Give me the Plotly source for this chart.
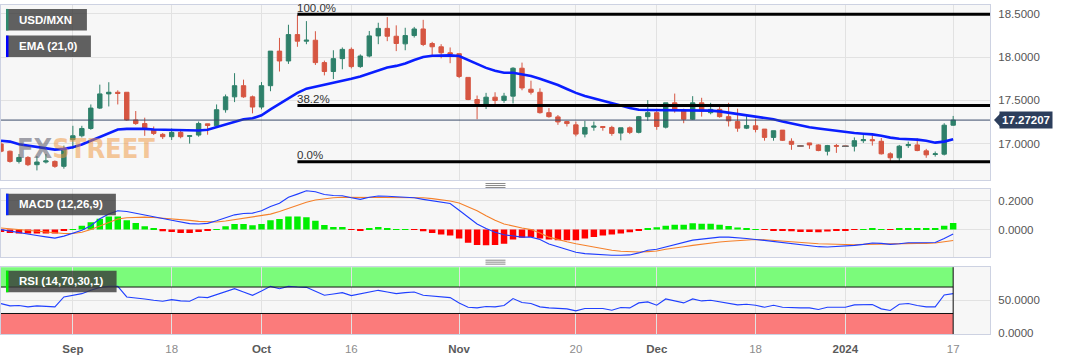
import plotly.graph_objects as go

# ---------------- data ----------------
# trading-day index, 0 = 2023-09-01 (daily bars, weekdays)
x_idx = list(range(-8, 99))

opens = [
    16.996, 16.912, 16.794, 16.840, 16.756, 16.787, 16.794, 16.737, 17.046, 17.091,
    17.175, 17.411, 17.575, 17.594, 17.594, 17.274, 17.232, 17.160, 17.107, 17.080,
    17.130, 17.084, 17.099, 17.229, 17.206, 17.392, 17.541, 17.670, 17.541, 17.423,
    17.670, 18.070, 17.956, 18.261, 18.185, 18.196, 17.937, 17.834, 17.983, 18.090,
    17.891, 18.013, 18.246, 18.333, 18.242, 18.154, 18.250, 18.326, 18.158, 18.120,
    18.051, 18.040, 17.766, 17.510, 17.450, 17.537, 17.500, 17.549, 17.872, 17.629,
    17.594, 17.358, 17.309, 17.255, 17.217, 17.110, 17.190, 17.198, 17.187, 17.122,
    17.183, 17.130, 17.312, 17.358, 17.190, 17.472, 17.389, 17.282, 17.472, 17.358,
    17.396, 17.312, 17.255, 17.179, 17.206, 17.168, 17.072, 17.156, 17.027, 16.973,
    17.008, 16.985, 16.912, 16.977, 16.970, 16.970, 17.034, 17.046, 17.027, 16.882,
    16.836, 16.977, 16.985, 16.916, 16.874, 16.878, 17.213,
]
highs = [
    17.020, 16.920, 16.880, 16.855, 16.855, 16.880, 16.806, 16.977, 17.206, 17.206,
    17.453, 17.682, 17.710, 17.617, 17.594, 17.377, 17.300, 17.198, 17.122, 17.175,
    17.149, 17.099, 17.255, 17.230, 17.453, 17.568, 17.815, 17.740, 17.556, 17.712,
    18.070, 18.223, 18.375, 18.490, 18.417, 18.300, 17.960, 18.080, 18.112, 18.112,
    18.032, 18.303, 18.398, 18.463, 18.368, 18.340, 18.350, 18.432, 18.177, 18.150,
    18.112, 18.040, 17.766, 17.556, 17.587, 17.594, 17.587, 17.884, 17.937, 17.728,
    17.640, 17.411, 17.331, 17.263, 17.255, 17.263, 17.255, 17.200, 17.206, 17.183,
    17.198, 17.320, 17.503, 17.404, 17.472, 17.579, 17.404, 17.549, 17.530, 17.472,
    17.427, 17.472, 17.404, 17.320, 17.290, 17.168, 17.149, 17.156, 17.061, 16.973,
    17.008, 16.992, 16.985, 16.996, 16.970, 17.072, 17.099, 17.099, 17.065, 16.900,
    16.985, 17.023, 17.061, 16.939, 16.909, 17.236, 17.320,
]
lows = [
    16.900, 16.780, 16.770, 16.740, 16.690, 16.770, 16.720, 16.710, 16.939, 17.072,
    17.160, 17.400, 17.430, 17.453, 17.263, 17.217, 17.090, 17.099, 17.053, 17.042,
    17.061, 17.000, 17.080, 17.103, 17.187, 17.358, 17.480, 17.530, 17.350, 17.396,
    17.606, 17.834, 17.922, 18.120, 18.150, 17.910, 17.789, 17.747, 17.860, 17.870,
    17.876, 17.998, 18.150, 18.185, 18.070, 18.080, 18.227, 18.128, 18.006, 17.987,
    17.930, 17.758, 17.503, 17.282, 17.400, 17.453, 17.472, 17.465, 17.617, 17.568,
    17.347, 17.300, 17.217, 17.198, 17.084, 17.072, 17.149, 17.149, 17.091, 17.038,
    17.110, 17.118, 17.263, 17.160, 17.175, 17.358, 17.236, 17.274, 17.312, 17.339,
    17.300, 17.198, 17.137, 17.168, 17.130, 17.034, 17.034, 17.030, 16.928, 16.973,
    16.939, 16.912, 16.863, 16.893, 16.970, 16.909, 17.008, 16.977, 16.874, 16.794,
    16.800, 16.950, 16.912, 16.836, 16.850, 16.863, 17.206,
]
closes = [
    16.912, 16.794, 16.840, 16.756, 16.787, 16.800, 16.737, 16.935, 17.091, 17.175,
    17.411, 17.575, 17.594, 17.580, 17.274, 17.232, 17.175, 17.118, 17.080, 17.130,
    17.080, 17.091, 17.232, 17.210, 17.392, 17.541, 17.670, 17.541, 17.423, 17.670,
    18.070, 17.956, 18.261, 18.185, 18.196, 17.937, 17.834, 17.983, 18.090, 17.891,
    18.013, 18.246, 18.333, 18.242, 18.158, 18.250, 18.326, 18.147, 18.120, 18.051,
    18.036, 17.777, 17.510, 17.465, 17.537, 17.500, 17.549, 17.872, 17.644, 17.594,
    17.358, 17.312, 17.251, 17.232, 17.110, 17.187, 17.202, 17.187, 17.118, 17.183,
    17.130, 17.312, 17.358, 17.198, 17.472, 17.389, 17.282, 17.472, 17.377, 17.396,
    17.312, 17.263, 17.179, 17.210, 17.164, 17.072, 17.149, 17.038, 16.992, 16.973,
    16.985, 16.920, 16.977, 16.970, 16.970, 17.034, 17.046, 17.034, 16.882, 16.836,
    16.970, 16.989, 16.920, 16.870, 16.882, 17.213, 17.272,
]
ema21 = [
    17.034, 17.023, 16.992, 16.977, 16.958, 16.947, 16.931, 16.939, 16.958, 16.989,
    17.034, 17.080, 17.122, 17.164, 17.171, 17.175, 17.171, 17.164, 17.160, 17.156,
    17.152, 17.152, 17.152, 17.160, 17.190, 17.221, 17.259, 17.282, 17.293, 17.328,
    17.396, 17.461, 17.518, 17.587, 17.636, 17.659, 17.674, 17.700, 17.728, 17.750,
    17.777, 17.811, 17.850, 17.880, 17.899, 17.926, 17.968, 18.002, 18.017, 18.021,
    18.021, 18.013, 17.968, 17.918, 17.876, 17.842, 17.819, 17.819, 17.804, 17.781,
    17.750, 17.716, 17.678, 17.632, 17.587, 17.552, 17.526, 17.499, 17.469, 17.442,
    17.411, 17.392, 17.389, 17.389, 17.381, 17.389, 17.389, 17.385, 17.385, 17.381,
    17.373, 17.358, 17.343, 17.331, 17.320, 17.300, 17.282, 17.255, 17.232, 17.210,
    17.190, 17.175, 17.160, 17.145, 17.133, 17.122, 17.114, 17.107, 17.091, 17.069,
    17.057, 17.053, 17.046, 17.034, 17.011, 17.023, 17.050,
]
macd_hist = [
    -0.016, -0.023, -0.027, -0.027, -0.027, -0.027, -0.027, -0.007, 0.003, 0.027,
    0.050, 0.075, 0.091, 0.091, 0.064, 0.045, 0.023, 0.004, -0.011, -0.016,
    -0.023, -0.023, -0.016, -0.007, 0.002, 0.023, 0.039, 0.039, 0.030, 0.039,
    0.064, 0.073, 0.091, 0.091, 0.086, 0.061, 0.032, 0.018, 0.018, -0.002,
    -0.004, 0.004, 0.018, 0.011, 0.002, 0.001, -0.001, -0.011, -0.023, -0.034,
    -0.041, -0.061, -0.091, -0.107, -0.109, -0.107, -0.098, -0.068, -0.057, -0.052,
    -0.061, -0.068, -0.073, -0.073, -0.073, -0.061, -0.052, -0.041, -0.034, -0.027,
    -0.018, -0.004, 0.011, 0.016, 0.027, 0.034, 0.034, 0.043, 0.041, 0.041,
    0.034, 0.025, 0.014, 0.007, 0.002, -0.003, -0.004, -0.005, -0.011, -0.016,
    -0.016, -0.018, -0.014, -0.009, -0.005, -0.001, 0.002, 0.007, 0.003, -0.002,
    0.004, 0.006, 0.006, 0.005, 0.007, 0.027, 0.045,
]
macd_line = [
    0.000, -0.011, -0.023, -0.034, -0.041, -0.050, -0.059, -0.045, -0.027, -0.005,
    0.027, 0.075, 0.107, 0.130, 0.125, 0.114, 0.102, 0.091, 0.077, 0.064,
    0.052, 0.041, 0.039, 0.043, 0.061, 0.084, 0.102, 0.111, 0.114, 0.130,
    0.159, 0.182, 0.223, 0.245, 0.268, 0.261, 0.243, 0.236, 0.234, 0.220,
    0.209, 0.223, 0.232, 0.230, 0.225, 0.223, 0.220, 0.209, 0.198, 0.189,
    0.180, 0.134, 0.084, 0.039, 0.007, -0.018, -0.036, -0.045, -0.052, -0.052,
    -0.068, -0.100, -0.118, -0.136, -0.157, -0.166, -0.170, -0.175, -0.177, -0.177,
    -0.175, -0.161, -0.143, -0.136, -0.120, -0.102, -0.091, -0.073, -0.066, -0.059,
    -0.052, -0.052, -0.055, -0.061, -0.068, -0.075, -0.080, -0.086, -0.095, -0.105,
    -0.111, -0.118, -0.120, -0.118, -0.114, -0.109, -0.102, -0.093, -0.095, -0.102,
    -0.098, -0.091, -0.091, -0.091, -0.089, -0.061, -0.030,
]
macd_signal = [
    0.011, 0.005, -0.002, -0.007, -0.011, -0.016, -0.023, -0.027, -0.027, -0.018,
    0.000, 0.023, 0.050, 0.073, 0.082, 0.086, 0.086, 0.084, 0.080, 0.075,
    0.070, 0.064, 0.057, 0.052, 0.052, 0.059, 0.068, 0.077, 0.086, 0.095,
    0.107, 0.125, 0.148, 0.170, 0.189, 0.205, 0.214, 0.220, 0.223, 0.223,
    0.223, 0.220, 0.220, 0.220, 0.220, 0.223, 0.223, 0.220, 0.214, 0.207,
    0.198, 0.184, 0.159, 0.130, 0.095, 0.064, 0.039, 0.023, 0.011, 0.000,
    -0.023, -0.052, -0.070, -0.084, -0.098, -0.109, -0.120, -0.134, -0.143, -0.150,
    -0.155, -0.155, -0.152, -0.148, -0.136, -0.125, -0.118, -0.109, -0.100, -0.093,
    -0.086, -0.080, -0.075, -0.070, -0.068, -0.070, -0.075, -0.077, -0.082, -0.086,
    -0.093, -0.098, -0.100, -0.102, -0.105, -0.105, -0.102, -0.100, -0.098, -0.098,
    -0.098, -0.095, -0.095, -0.095, -0.093, -0.084, -0.075,
]
rsi14 = [
    45, 41.5, 42, 40, 41.5, 41, 40, 55, 57, 60,
    65, 69.5, 71, 71, 55, 54, 52, 50, 48.5, 51,
    49, 48.5, 55, 54, 58.5, 63.5, 67.5, 62.5, 57.5, 64,
    71, 67.5, 71, 70, 69.5, 63.5, 57.5, 59.5, 61.5, 57,
    60, 62.5, 65, 62.5, 60, 61.5, 62.5, 57.5, 56, 55,
    54, 46, 39.5, 38.5, 40.5, 40, 42, 52.5, 46.5, 45,
    40, 38.5, 38, 37, 34, 37.5, 37.5, 37.5, 35, 39,
    38.5, 46, 47.5, 42.5, 52, 49, 46, 52, 49, 50,
    47.5, 46, 43, 44, 42.5, 39.5, 42.5, 39.5, 38.5, 38.5,
    38.5, 36, 39.5, 39.5, 39.5, 43, 43.5, 43.5, 37, 34.5,
    44, 45, 42, 40, 40, 58, 60,
]

tick_pos = [0, 11, 21, 31, 43, 56, 65, 76, 86, 98]
tick_labels = ["Sep", "18", "Oct", "16", "Nov", "20", "Dec", "18", "2024", "17"]
tick_major = [True, False, True, False, True, False, True, False, True, False]
price_ticks = [17.0, 17.5, 18.0, 18.5]
macd_ticks = [0.0, 0.2]
rsi_ticks = [0, 50]

fib_high = 18.497
fib_low = 16.790
fib_start = 25
fib_levels = [1.0, 0.382, 0.0]
last_price = 17.27207
rsi_upper = 70
rsi_lower = 30
rsi_top = 100

# ---------------- style ----------------
GREEN = "#2e806a"
RED = "#d65642"
GRID = "#e2e2e2"
BORDER = "#cdd2e2"
NAVY = "#2c3e5c"
FONT = "Liberation Sans, Arial, sans-serif"
PLOT_W = 990.0
PAPER_H = 334.0
x_range = [-8, 102.1]


def px_x(px):
    return px / PLOT_W


def px_y(py):
    return (PAPER_H - py) / PAPER_H


fig = go.Figure()

fig.add_trace(go.Candlestick(
    x=x_idx, open=opens, high=highs, low=lows, close=closes,
    increasing=dict(line=dict(color=GREEN, width=1), fillcolor=GREEN),
    decreasing=dict(line=dict(color=RED, width=1), fillcolor=RED),
    xaxis="x", yaxis="y", showlegend=False, hoverinfo="skip",
))

# flat (holiday) bars drawn as gray dashes
fx, fy = [], []
for xi, h, l, c in zip(x_idx, highs, lows, closes):
    if h == l:
        fx += [xi - 0.38, xi + 0.38, None]
        fy += [c, c, None]
fig.add_trace(go.Scatter(x=fx, y=fy, mode="lines", line=dict(color="#6a6a6a", width=1.5),
                         xaxis="x", yaxis="y", showlegend=False, hoverinfo="skip"))

fig.add_trace(go.Scatter(x=x_idx, y=ema21, mode="lines", line=dict(color="#0a1eff", width=2.6),
                         xaxis="x", yaxis="y", showlegend=False, hoverinfo="skip"))

# MACD
fig.add_trace(go.Bar(x=x_idx, y=macd_hist, width=0.72,
                     marker=dict(color=["#00ee00" if v >= 0 else "#ff0000" for v in macd_hist], line=dict(width=0)),
                     xaxis="x", yaxis="y2", showlegend=False, hoverinfo="skip"))
fig.add_trace(go.Scatter(x=x_idx, y=macd_signal, mode="lines", line=dict(color="#f5802a", width=1.1),
                         xaxis="x", yaxis="y2", showlegend=False, hoverinfo="skip"))
fig.add_trace(go.Scatter(x=x_idx, y=macd_line, mode="lines", line=dict(color="#1e3cff", width=1.1),
                         xaxis="x", yaxis="y2", showlegend=False, hoverinfo="skip"))

# RSI
fig.add_trace(go.Scatter(x=x_idx, y=rsi14, mode="lines", line=dict(color="#2040ff", width=1.1),
                         xaxis="x", yaxis="y3", showlegend=False, hoverinfo="skip"))

shapes = []
annotations = []

# RSI bands
last_x = x_idx[-1]
shapes.append(dict(type="rect", xref="x", yref="y3", x0=x_range[0], x1=last_x, y0=rsi_upper, y1=rsi_top,
                   fillcolor="rgba(0,255,0,0.5)", line=dict(width=0), layer="below"))
shapes.append(dict(type="rect", xref="x", yref="y3", x0=x_range[0], x1=last_x, y0=0 - 1, y1=rsi_lower,
                   fillcolor="rgba(255,0,0,0.5)", line=dict(width=0), layer="below"))
for lvl in (rsi_upper, rsi_lower):
    shapes.append(dict(type="line", xref="x", yref="y3", x0=x_range[0], x1=last_x, y0=lvl, y1=lvl,
                       line=dict(color="#111", width=1)))
shapes.append(dict(type="line", xref="x", yref="y3", x0=last_x, x1=last_x, y0=-1, y1=rsi_top,
                   line=dict(color="#111", width=1)))

# current price line + label
shapes.append(dict(type="line", xref="paper", yref="y", x0=0, x1=1, y0=last_price, y1=last_price,
                   line=dict(color="#3a4a6a", width=1)))
d = 7.0 / 87.5
shapes.append(dict(type="path", xref="paper", yref="y",
                   path=f"M {px_x(994)},{last_price} L {px_x(1000.5)},{last_price + d} L {px_x(1000.5)},{last_price - d} Z",
                   fillcolor=NAVY, line=dict(width=0)))
annotations.append(dict(xref="paper", yref="y", x=px_x(999), y=last_price, xanchor="left", yanchor="middle",
                        text=f"<b>{last_price:.5f}</b>", showarrow=False, bgcolor=NAVY, borderpad=2,
                        font=dict(color="white", size=11.5, family=FONT)))

# Fibonacci levels
for lvl in fib_levels:
    val = fib_low + lvl * (fib_high - fib_low)
    shapes.append(dict(type="line", xref="x", yref="y", x0=fib_start, x1=x_range[1], y0=val, y1=val,
                       line=dict(color="#000", width=3)))
    annotations.append(dict(xref="x", yref="y", x=fib_start, y=val, xanchor="left", yanchor="bottom",
                            xshift=-2, yshift=-1.5, text=f"{lvl * 100:.1f}%", showarrow=False,
                            font=dict(color="#333", size=11.5, family=FONT)))

# legend boxes
boxes = [
    ("USD/MXN", 5, 86, 5, 26.7, "#2e8b6e"),
    ("EMA (21,0)", 5, 90, 32, 53.7, "#0000ff"),
    ("MACD (12,26,9)", 5, 115, 192, 213.7, "#0a28ff"),
    ("RSI (14,70,30,1)", 5, 115.7, 270, 291.7, "#00ee00"),
]
for txt, bx0, bx1, by0, by1, col in boxes:
    shapes.append(dict(type="rect", xref="paper", yref="paper", x0=px_x(bx0), x1=px_x(bx1),
                       y0=px_y(by1), y1=px_y(by0), fillcolor="rgba(58,58,58,0.8)", line=dict(width=0)))
    shapes.append(dict(type="rect", xref="paper", yref="paper", x0=px_x(bx0), x1=px_x(bx0 + 2.5),
                       y0=px_y(by1), y1=px_y(by0), fillcolor=col, line=dict(width=0)))
    annotations.append(dict(xref="paper", yref="paper", x=px_x(bx0 + 11), y=px_y((by0 + by1) / 2),
                            xanchor="left", yanchor="middle", text=f"<b>{txt}</b>", showarrow=False,
                            font=dict(color="white", size=11.5, family=FONT)))

# panel separators
for yc in (183.7, 261.3):
    for k in (-2, 0, 2):
        shapes.append(dict(type="line", xref="paper", yref="paper", x0=px_x(485), x1=px_x(505),
                           y0=px_y(yc + k), y1=px_y(yc + k), line=dict(color="#8a8a8a", width=1)))

# watermark
annotations.append(dict(xref="paper", yref="paper", x=px_x(14), y=px_y(146), xanchor="left", yanchor="middle",
                        text="<b><span style='color:rgba(85,85,100,0.55)'>FX</span>"
                             "<span style='color:rgba(240,150,60,0.5)'>STREET</span></b>",
                        showarrow=False, font=dict(size=27, family="Liberation Sans Narrow, DejaVu Sans Condensed, Arial Narrow")))

ticktext = [f"<span style='color:#5a5a5a'><b>{t}</b></span>" if m else f"<span style='color:#8c8c8c'>{t}</span>"
            for t, m in zip(tick_labels, tick_major)]

yax_common = dict(side="right", showgrid=True, gridcolor=GRID, zeroline=False, showline=True, mirror=True,
                  linecolor=BORDER, ticks="outside", ticklen=5, tickcolor="rgba(0,0,0,0)",
                  tickfont=dict(color="#555", size=11.5, family=FONT), tickformat=".4f", fixedrange=True)

fig.update_layout(
    width=1067, height=360,
    margin=dict(l=0, r=77, t=0, b=26),
    paper_bgcolor="white", plot_bgcolor="#f7f7f7",
    showlegend=False, boxgap=0.3,
    font=dict(family=FONT),
    xaxis=dict(domain=[0, 1], anchor="y3", range=x_range, tickvals=tick_pos, ticktext=ticktext,
               showgrid=True, gridcolor=GRID, zeroline=False, showline=True, mirror="all", linecolor=BORDER,
               ticks="outside", ticklen=4, tickcolor="rgba(0,0,0,0)", tickfont=dict(size=11.5, family=FONT),
               rangeslider=dict(visible=False)),
    yaxis=dict(domain=[0.4656, 0.9979], range=[16.575, 18.607], tickvals=price_ticks, **yax_common),
    yaxis2=dict(domain=[0.2326, 0.4392], range=[-0.191, 0.28], tickvals=macd_ticks, **yax_common),
    yaxis3=dict(domain=[0, 0.2045], range=[-1, 101], tickvals=rsi_ticks, **yax_common),
    shapes=shapes, annotations=annotations,
)

fig.write_html("out.html", config={"displayModeBar": False},
               post_script="document.body.style.margin='0px';")
